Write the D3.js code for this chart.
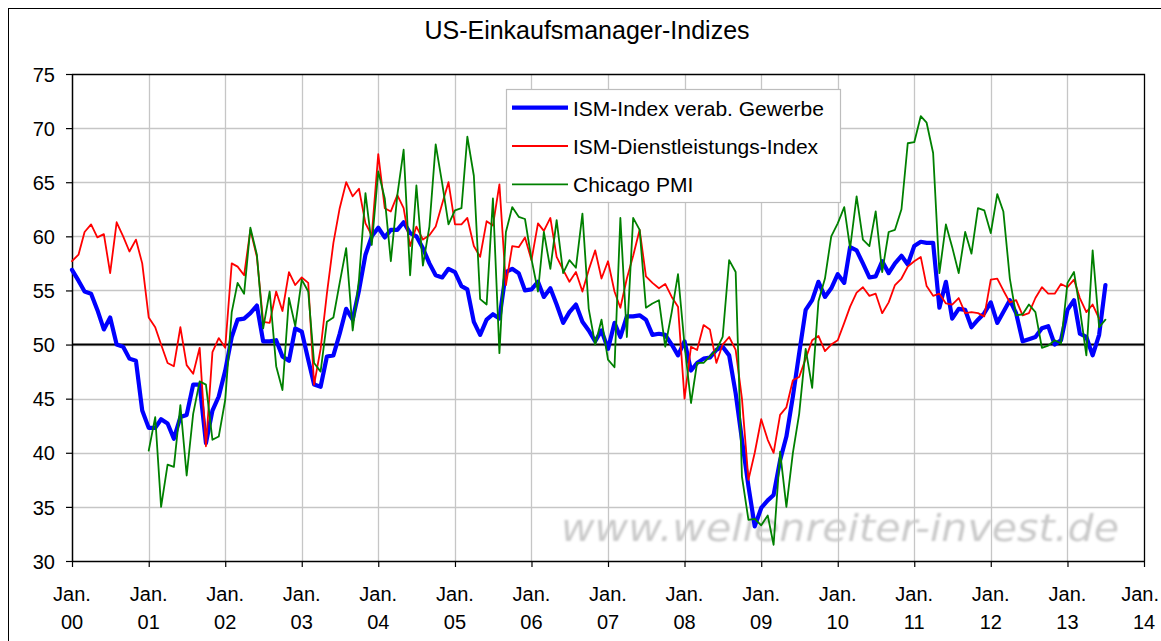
<!DOCTYPE html>
<html><head><meta charset="utf-8">
<script src="https://cdn.jsdelivr.net/npm/d3@7"></script>
<style>
body{margin:0;background:#fff}
svg{display:block}
text{font-family:"Liberation Sans",Arial,sans-serif;fill:#000}
</style>
</head><body>
<svg id="chart" width="1161" height="641"></svg>
<script>
// ---------- data ----------
const chartTitle = "US-Einkaufsmanager-Indizes";
const seriesNames = ["ISM-Index verab. Gewerbe", "ISM-Dienstleistungs-Index", "Chicago PMI"];
const seriesColors = ["#0000ff", "#ff0000", "#008000"];
const yTicks = [30, 35, 40, 45, 50, 55, 60, 65, 70, 75];
const xTickYears = ["00","01","02","03","04","05","06","07","08","09","10","11","12","13","14"];
const watermark = "www.wellenreiter-invest.de";

// monthly values, first value = start month
const ismStart = "2000-01";
const ismManufacturing = [
  56.9,55.9,54.9,54.7,53.2,51.4,52.5,50.0,49.8,48.7,48.5,43.9, // 2000
  42.3,42.3,43.1,42.7,41.3,43.3,43.5,46.3,46.3,40.9,43.9,45.2, // 2001
  47.6,50.7,52.3,52.4,52.9,53.6,50.3,50.3,50.4,48.9,48.5,51.5, // 2002
  51.2,48.6,46.3,46.1,48.9,49.0,51.0,53.3,52.3,55.0,58.3,60.0, // 2003
  60.8,59.9,60.6,60.6,61.3,60.3,60.0,58.9,57.5,56.4,56.2,57.0, // 2004
  56.7,55.4,55.1,52.1,50.9,52.3,52.8,52.4,56.7,57.0,56.6,55.0, // 2005
  55.1,55.8,54.4,55.2,53.7,52.0,53.0,53.7,52.1,51.3,50.3,51.3, // 2006
  49.6,52.0,50.7,52.6,52.6,52.7,52.3,50.9,51.0,50.9,50.0,49.0, // 2007
  50.3,47.6,48.3,48.7,48.8,49.5,49.8,49.0,45.5,41.2,36.9,33.2, // 2008
  34.9,35.6,36.1,39.3,41.5,45.2,49.2,53.2,54.1,55.8,54.4,55.2, // 2009
  56.5,55.7,59.0,58.7,57.5,56.2,56.3,57.7,56.6,57.5,58.2,57.4, // 2010
  59.1,59.5,59.4,59.4,53.4,55.8,52.4,53.3,53.2,51.6,52.3,52.9, // 2011
  53.9,52.0,53.0,54.1,52.9,50.3,50.5,50.7,51.5,51.7,50.0,50.4, // 2012
  53.2,54.1,51.0,50.7,49.0,50.9,55.5                           // 2013
];
const servicesStart = "2000-01";
const ismServices = [
  57.7,58.3,60.4,61.1,59.9,60.2,56.6,61.3,60.0,58.6,59.7,57.5, // 2000
  52.5,51.6,50.0,48.3,48.0,51.6,48.1,47.3,49.7,40.6,49.3,50.6, // 2001
  49.7,57.5,57.2,56.4,60.6,58.1,52.1,52.0,54.9,53.1,56.7,55.5, // 2002
  56.2,55.7,46.3,49.6,54.7,59.4,62.6,65.0,63.7,64.4,61.2,60.1, // 2003
  67.6,62.6,62.3,63.8,62.6,59.1,60.9,59.7,60.1,60.9,63.0,65.0, // 2004
  61.1,61.1,61.7,59.1,58.1,61.4,61.0,64.8,55.5,59.1,59.0,59.9, // 2005
  57.8,61.2,60.5,61.7,58.1,56.9,55.8,56.7,54.9,56.9,58.7,56.1, // 2006
  57.7,54.9,53.4,56.1,58.2,60.6,56.3,55.7,55.2,55.6,54.4,53.5, // 2007
  45.0,49.8,49.5,51.8,51.4,48.3,50.0,50.7,49.5,45.0,37.5,40.0, // 2008
  43.1,41.2,40.0,43.5,44.2,46.7,47.0,48.7,50.4,50.8,49.4,50.0, // 2009
  50.4,52.0,53.5,54.8,55.3,54.5,54.7,52.9,53.9,55.5,56.1,57.2, // 2010
  57.7,58.1,55.4,54.5,54.7,53.8,53.7,54.3,52.9,53.0,52.9,52.6, // 2011
  56.0,56.1,55.0,53.9,54.1,52.7,52.9,54.3,55.3,54.7,54.7,55.6, // 2012
  55.3,56.0,54.3,53.0,53.7,52.4                                // 2013
];
const chicagoStart = "2001-01";
const chicagoPMI = [
  40.2,43.3,35.0,38.9,38.7,44.4,37.9,43.6,46.6,46.3,41.2,41.5, // 2001
  44.9,53.0,55.7,54.7,60.8,58.3,51.5,54.9,48.0,45.8,54.3,51.7, // 2002
  56.0,54.9,48.3,47.5,52.1,52.5,55.7,58.9,51.3,56.0,64.0,59.2, // 2003
  66.0,63.5,57.7,63.8,68.0,56.4,64.7,57.3,60.9,68.5,64.9,61.1, // 2004
  62.4,62.6,69.2,65.6,54.2,53.7,63.5,49.2,60.4,62.7,61.8,61.6, // 2005
  57.9,54.9,60.4,57.0,61.5,56.6,57.8,57.1,62.1,53.3,50.0,52.3, // 2006
  48.6,47.9,61.7,50.7,61.7,60.6,53.4,53.8,54.1,49.8,53.0,56.5, // 2007
  50.0,44.6,48.3,48.3,48.9,49.5,50.7,57.8,56.7,37.8,33.8,33.9, // 2008
  33.3,34.2,31.5,40.1,35.0,40.0,43.6,49.6,46.0,54.0,56.1,60.0, // 2009
  61.2,62.7,58.9,63.7,59.7,59.1,62.3,56.7,60.4,60.6,62.5,68.6, // 2010
  68.7,71.1,70.5,67.7,56.6,61.1,59.0,56.6,60.4,58.4,62.6,62.4, // 2011
  60.3,63.9,62.3,56.1,52.7,52.8,53.7,53.0,49.7,49.9,50.4,50.1, // 2012
  55.7,56.7,53.3,49.0,58.7,51.6,52.3                           // 2013
];

// ---------- chart ----------
const svg = d3.select("#chart");
const plot = {left: 72, right: 1144, top: 74, bottom: 561};

const parseMonth = d3.utcParse("%Y-%m");
const toSeries = (start, vals) => {
  const s = parseMonth(start);
  return vals.map((v, i) => ({date: d3.utcMonth.offset(s, i), value: v}));
};
const series = [
  toSeries(ismStart, ismManufacturing),
  toSeries(servicesStart, ismServices),
  toSeries(chicagoStart, chicagoPMI)
];
const widths = [4.2, 1.8, 1.8];

const x = d3.scaleUtc()
  .domain([parseMonth("2000-01"), parseMonth("2014-01")])
  .range([plot.left, plot.right]);
const y = d3.scaleLinear().domain([30, 75]).range([plot.bottom, plot.top]);
const yearDates = xTickYears.map((yy, i) => parseMonth((2000 + i) + "-01"));

// outer frame
svg.append("rect").attr("x", 8.5).attr("y", 8.5).attr("width", 1170).attr("height", 660)
  .attr("fill", "#fff").attr("stroke", "#000").attr("stroke-width", 1);

// title
svg.append("text").attr("x", 587).attr("y", 39).attr("text-anchor", "middle")
  .style("font-size", "25px").text(chartTitle);

// grid
const grid = svg.append("g");
grid.selectAll("line.h").data(yTicks.filter(t => t > 30 && t < 75)).join("line")
  .attr("x1", plot.left).attr("x2", plot.right)
  .attr("y1", d => Math.round(y(d)) + 0.5).attr("y2", d => Math.round(y(d)) + 0.5)
  .attr("stroke", "#c6c6c6").attr("stroke-width", 1.3);
grid.selectAll("line.v").data(yearDates.slice(1, -1)).join("line")
  .attr("x1", d => Math.round(x(d)) + 0.5).attr("x2", d => Math.round(x(d)) + 0.5)
  .attr("y1", plot.top).attr("y2", plot.bottom)
  .attr("stroke", "#c6c6c6").attr("stroke-width", 1.3);

// watermark
const defs = svg.append("defs");
defs.append("filter").attr("id", "blur").append("feGaussianBlur").attr("stdDeviation", 0.8);
svg.append("text").attr("x", 561).attr("y", 541)
  .attr("textLength", 558).attr("lengthAdjust", "spacingAndGlyphs")
  .attr("filter", "url(#blur)")
  .style("font-family", "'DejaVu Sans', Verdana, sans-serif")
  .style("font-style", "oblique").style("font-size", "38px")
  .style("fill", "#c9c9c9").text(watermark);

// plot border (top/right)
svg.append("path")
  .attr("d", `M${plot.left},${plot.top + 0.5}H${plot.right + 0.5}V${plot.bottom}`)
  .attr("fill", "none").attr("stroke", "#000").attr("stroke-width", 1.3);

// 50 reference line
svg.append("line").attr("x1", plot.left).attr("x2", plot.right)
  .attr("y1", y(50)).attr("y2", y(50)).attr("stroke", "#000").attr("stroke-width", 2);

// axes
const yAxis = svg.append("g").attr("transform", `translate(${plot.left},0)`)
  .call(d3.axisLeft(y).tickValues(yTicks).tickSize(6).tickPadding(11).tickSizeOuter(0));
yAxis.selectAll("text").style("font-size", "20px").attr("dy", "0.36em")
  .style("font-family", "'Liberation Sans',Arial,sans-serif");
const xAxis = svg.append("g").attr("transform", `translate(0,${plot.bottom})`)
  .call(d3.axisBottom(x).tickValues(yearDates).tickSize(6).tickFormat("").tickSizeOuter(0));
[yAxis, xAxis].forEach(a => {
  a.select(".domain").attr("stroke", "#000").attr("stroke-width", 1.5);
  a.selectAll(".tick line").attr("stroke", "#000").attr("stroke-width", 1.2);
});
const lastIdx = yearDates.length - 1;
const xl = svg.append("g");
xl.selectAll("text.jan").data(yearDates).join("text")
  .attr("x", (d, i) => i === lastIdx ? 1159 : x(d))
  .attr("text-anchor", (d, i) => i === lastIdx ? "end" : "middle")
  .attr("y", 600.5)
  .style("font-size", "20px").text("Jan.");
xl.selectAll("text.yr").data(yearDates).join("text")
  .attr("x", d => x(d)).attr("y", 629).attr("text-anchor", "middle")
  .style("font-size", "20px").text((d, i) => xTickYears[i]);

// series lines
const line = d3.line().x(d => x(d.date)).y(d => y(d.value));
series.forEach((s, i) => {
  svg.append("path").datum(s).attr("d", line)
    .attr("fill", "none").attr("stroke", seriesColors[i])
    .attr("stroke-width", widths[i]).attr("stroke-linejoin", "round").attr("stroke-linecap", "round");
});

// legend
const lg = svg.append("g");
lg.append("rect").attr("x", 506.5).attr("y", 89.5).attr("width", 334).attr("height", 113)
  .attr("fill", "#fff").attr("stroke", "#bdbdbd").attr("stroke-width", 1.2);
const rowsY = [107.7, 146, 184.3];
seriesNames.forEach((n, i) => {
  lg.append("line").attr("x1", 512).attr("x2", 568).attr("y1", rowsY[i]).attr("y2", rowsY[i])
    .attr("stroke", seriesColors[i]).attr("stroke-width", widths[i]);
  lg.append("text").attr("x", 573).attr("y", rowsY[i] + 5.8)
    .style("font-size", "21px").attr("dy", "0.1em").text(n);
});
</script>
</body></html>
